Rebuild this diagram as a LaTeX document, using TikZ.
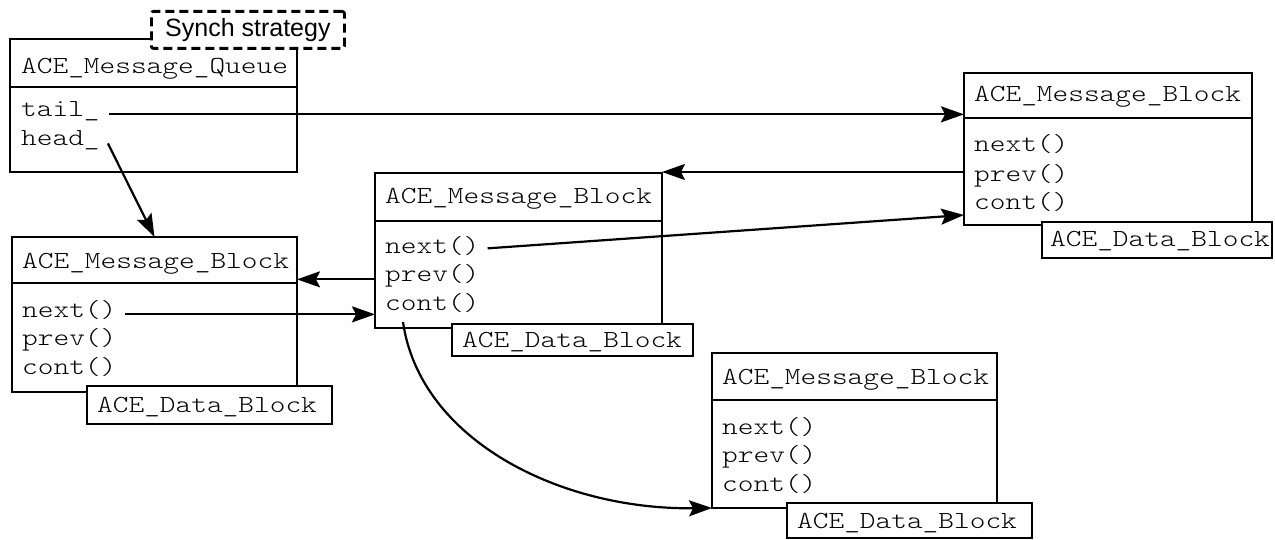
\documentclass[tikz,border=0pt]{standalone}
\usepackage{fontspec}
\setmainfont{Liberation Sans}
\newfontfamily\monof[FakeStretch=1.22]{lmmonolt10-regular.otf}
\usetikzlibrary{arrows.meta,calc}
\begin{document}
\begin{tikzpicture}[x=1pt,y=-1pt,
  box/.style={draw, line width=2.8pt, inner sep=0pt, outer sep=0pt, anchor=north west},
  dbox/.style={draw, fill=white, line width=2.8pt, inner sep=0pt, outer sep=0pt, anchor=north west},
  txt/.style={inner sep=0pt, anchor=base west, font=\monof\fontsize{24.5}{24.5}\selectfont},
  sep/.style={line width=2.8pt},
  arr/.style={line width=2.2pt, -{Stealth[length=23pt,width=16pt,inset=4pt]}},
  ]
\useasboundingbox (0,0) rectangle (1275,540);

% ACE_Message_Queue
\node[box, minimum width=287pt, minimum height=133pt] (q) at (10,39) {};
\draw[sep] ($(q.north west)+(0,48)$) -- ($(q.north east)+(0,48)$);
\node[txt] (qt) at (21,74) {ACE\_Message\_Queue};
\node[txt] (qtail) at (21,117) {tail\_};
\node[txt] (qhead) at (21,146) {head\_};
\node[draw, dashed, dash pattern=on 9pt off 5pt, fill=white, line width=2.8pt, rounded corners=2pt,
      minimum width=193pt, minimum height=37pt, inner sep=0pt, anchor=north west,
      font=\fontsize{25}{25}\selectfont] (syn) at (150,10) {};
\node[inner sep=0pt, font=\fontsize{25}{25}\selectfont] (synt) at (syn.center) {Synch strategy};

% left Message_Block
\node[box, minimum width=285pt, minimum height=155pt] (m1) at (12,237) {};
\draw[sep] ($(m1.north west)+(0,46)$) -- ($(m1.north east)+(0,46)$);
\node[txt] (m1t) at (22,269) {ACE\_Message\_Block};
\node[txt] (m1next) at (22,317) {next()};
\node[txt] (m1prev) at (22,345) {prev()};
\node[txt] (m1cont) at (22,374) {cont()};
\node[dbox, minimum width=245pt, minimum height=38pt] (d1) at (87,386) {};
\node[txt] (d1t) at (97,412) {ACE\_Data\_Block};

% middle Message_Block
\node[box, minimum width=287pt, minimum height=155pt] (mb) at (375,173) {};
\draw[sep] ($(mb.north west)+(0,48)$) -- ($(mb.north east)+(0,48)$);
\node[txt] (mbt) at (385,204) {ACE\_Message\_Block};
\node[txt] (mnext) at (385,254) {next()};
\node[txt] (mprev) at (385,282) {prev()};
\node[txt] (mcont) at (385,310) {cont()};
\node[dbox, minimum width=241pt, minimum height=32pt] (d2) at (452,324) {};
\node[txt] (d2t) at (462,347) {ACE\_Data\_Block};

% right Message_Block
\node[box, minimum width=288pt, minimum height=152pt] (rb) at (964,73) {};
\draw[sep] ($(rb.north west)+(0,45)$) -- ($(rb.north east)+(0,45)$);
\node[txt] (rbt) at (974,102) {ACE\_Message\_Block};
\node[txt] (rnext) at (974,152) {next()};
\node[txt] (rprev) at (974,182) {prev()};
\node[txt] (rcont) at (974,210) {cont()};
\node[dbox, minimum width=230pt, minimum height=36pt] (d3) at (1042,222) {};
\node[txt] (d3t) at (1050,247) {ACE\_Data\_Block};

% bottom Message_Block
\node[box, minimum width=285pt, minimum height=155pt] (bb) at (712,353) {};
\draw[sep] ($(bb.north west)+(0,47)$) -- ($(bb.north east)+(0,47)$);
\node[txt] (bbt) at (722,384) {ACE\_Message\_Block};
\node[txt] (bnext) at (722,434) {next()};
\node[txt] (bprev) at (722,462) {prev()};
\node[txt] (bcont) at (722,491) {cont()};
\node[dbox, minimum width=245pt, minimum height=35pt] (d4) at (787,503) {};
\node[txt] (d4t) at (797,528) {ACE\_Data\_Block};

% connectors
\draw[arr] ([xshift=9pt]qtail.mid east) -- (qtail.mid east -| rb.west);
\draw[arr] ([xshift=8pt]qhead.mid east) -- (m1.north);
\coordinate (rpstart) at ($(rb.north west)+(0,99)$);
\draw[arr] (rpstart) -- (rpstart -| mb.east);
\coordinate (rcin) at ($(rb.south west)+(0,-10)$);
\draw[arr] ([xshift=8pt,yshift=3pt]mnext.mid east) -- (rcin);
\draw[arr] (mprev.mid -| mb.west) -- (mprev.mid -| m1.east);
\draw[arr] ([xshift=8pt]m1next.mid east) -- (m1next.mid -| mb.west);
\coordinate (cstart) at ($(mcont.base west)+(18,12)$);
\draw[arr] (cstart) .. controls (420,440) and (560,510) .. (bb.south west);
\end{tikzpicture}
\end{document}
